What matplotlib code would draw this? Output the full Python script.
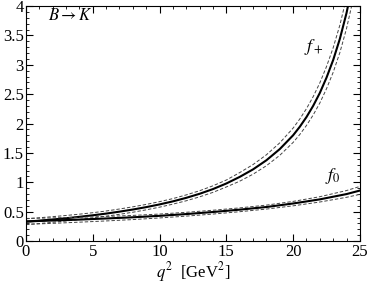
import matplotlib
matplotlib.use("Agg")
import matplotlib.pyplot as plt
from matplotlib.ticker import MultipleLocator, FormatStrFormatter

plt.rcParams['font.family'] = ['Liberation Serif', 'DejaVu Serif']
plt.rcParams['mathtext.fontset'] = 'stix'

# f+ : central value and error band
q2_plus = [0, 1, 2, 3, 4, 5, 6, 7, 8, 9, 10, 11, 12, 13, 14, 15, 16, 17, 18, 19,
           20, 20.5, 21, 21.5, 22, 22.5, 23, 23.5, 24, 24.5]
fplus = [0.330, 0.348, 0.368, 0.389, 0.413, 0.439, 0.468, 0.501, 0.537, 0.578,
         0.624, 0.676, 0.736, 0.805, 0.885, 0.980, 1.092, 1.220, 1.375, 1.565,
         1.800, 1.945, 2.110, 2.300, 2.520, 2.780, 3.080, 3.440, 3.880, 4.420]
fplus_up = [0.380, 0.397, 0.416, 0.436, 0.458, 0.483, 0.512, 0.546, 0.583, 0.624,
            0.671, 0.723, 0.786, 0.857, 0.941, 1.039, 1.165, 1.302, 1.468, 1.671,
            1.922, 2.077, 2.253, 2.456, 2.691, 2.969, 3.289, 3.674, 4.144, 4.721]
fplus_lo = [0.280, 0.299, 0.320, 0.342, 0.368, 0.395, 0.424, 0.456, 0.491, 0.532,
            0.577, 0.629, 0.686, 0.753, 0.829, 0.921, 1.019, 1.138, 1.282, 1.459,
            1.678, 1.813, 1.967, 2.144, 2.349, 2.591, 2.871, 3.206, 3.616, 4.119]

# f0 : central value and error band
q2_zero = [0, 2, 4, 6, 8, 10, 12, 14, 16, 18, 20, 22, 24, 25]
fzero = [0.335, 0.350, 0.366, 0.385, 0.405, 0.430, 0.460, 0.495, 0.535, 0.580,
         0.640, 0.710, 0.800, 0.860]
fzero_up = [0.385, 0.395, 0.405, 0.420, 0.437, 0.460, 0.490, 0.525, 0.565, 0.612,
            0.675, 0.755, 0.860, 0.930]
fzero_lo = [0.285, 0.302, 0.322, 0.343, 0.366, 0.394, 0.425, 0.460, 0.500, 0.545,
            0.600, 0.665, 0.745, 0.795]

fig = plt.figure(figsize=(3.71, 2.86), dpi=100)
ax = fig.add_axes([0.070, 0.157, 0.900, 0.822])

dash = dict(color='#444444', lw=0.7, ls=(0, (3.5, 2)))
ax.plot(q2_plus, fplus, color='black', lw=1.5)
ax.plot(q2_plus, fplus_up, **dash)
ax.plot(q2_plus, fplus_lo, **dash)
ax.plot(q2_zero, fzero, color='black', lw=1.5)
ax.plot(q2_zero, fzero_up, **dash)
ax.plot(q2_zero, fzero_lo, **dash)

ax.text(21.55, 3.3, r'$f_+$', fontsize=13, ha='center', va='center')
ax.text(22.95, 1.1, r'$f_0$', fontsize=13, ha='center', va='center')
ax.text(3.3, 3.83, r'$B \rightarrow K$', fontsize=12, ha='center', va='center')

ax.set_xlim(0, 25)
ax.set_ylim(0, 4)
ax.xaxis.set_major_locator(MultipleLocator(5))
ax.xaxis.set_minor_locator(MultipleLocator(1))
ax.yaxis.set_major_locator(MultipleLocator(0.5))
ax.yaxis.set_minor_locator(MultipleLocator(0.1))
ax.yaxis.set_major_formatter(FormatStrFormatter('%g'))
ax.tick_params(which='both', direction='in', top=True, right=True, labelsize=12)
ax.tick_params(which='major', length=5, width=0.8)
ax.tick_params(which='minor', length=2.5, width=0.6)
ax.tick_params(axis='y', pad=1.5)
ax.tick_params(axis='x', pad=2)
ax.set_xlabel(r'$q^2$  [GeV$^2$]', fontsize=12, labelpad=0)

fig.savefig('out.png', dpi=100)
